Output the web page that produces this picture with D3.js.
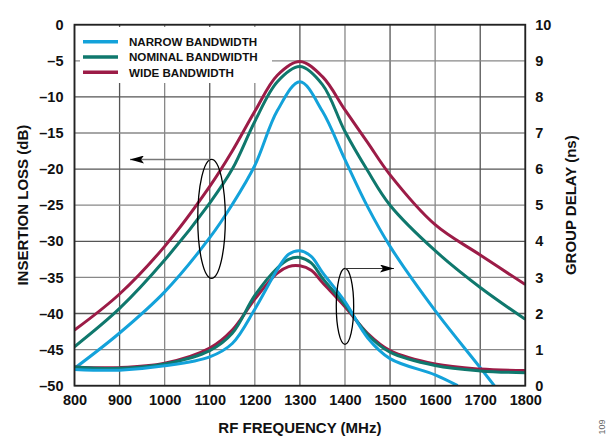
<!DOCTYPE html>
<html>
<head>
<meta charset="utf-8">
<script src="https://cdn.jsdelivr.net/npm/d3@7"></script>
<style>
  body { margin: 0; background: #fff; }
  text { font-family: "Liberation Sans", Arial, sans-serif; font-weight: bold; fill: #111; }
</style>
</head>
<body>
<div id="chart"></div>
<script>
// Chart data
// ===========================
var freqs = [800, 900, 1000, 1100, 1150, 1200, 1250, 1300, 1350, 1400, 1450, 1500, 1600, 1700, 1800];

// insertion loss (dB), left axis
var lossWide    = [-42.3, -37.3, -30.7, -22.4, -17.5, -12.0, -7.0, -5.1, -7.2, -11.8, -16.3, -20.8, -27.7, -31.9, -36.0];
var lossNominal = [-44.6, -39.3, -32.6, -24.7, -20.0, -13.4, -7.9, -5.8, -8.3, -14.8, -20.2, -25.0, -31.3, -36.4, -40.8];
var lossNarrowFreqs = [800, 900, 1000, 1100, 1150, 1200, 1250, 1300, 1350, 1400, 1450, 1500, 1600, 1700, 1750];
var lossNarrow  = [-47.6, -42.7, -37.0, -29.5, -24.9, -19.5, -11.9, -7.9, -12.0, -18.7, -25.2, -30.7, -39.6, -47.5, -51.5];

// group delay (ns), right axis
var delayFreqs   = [800, 900, 1000, 1100, 1150, 1200, 1250, 1275, 1300, 1325, 1350, 1400, 1450, 1500, 1600, 1700, 1800];
var delayWide    = [0.52, 0.50, 0.62, 1.04, 1.54, 2.40, 3.12, 3.30, 3.32, 3.20, 2.86, 2.19, 1.45, 0.97, 0.60, 0.46, 0.42];
var delayNominal = [0.52, 0.48, 0.60, 0.97, 1.45, 2.50, 3.26, 3.50, 3.55, 3.40, 2.98, 2.24, 1.42, 0.93, 0.56, 0.41, 0.36];
var delayNarrowFreqs = [800, 900, 1000, 1100, 1150, 1200, 1250, 1275, 1300, 1325, 1350, 1400, 1450, 1500, 1600, 1650];
var delayNarrow  = [0.45, 0.43, 0.55, 0.80, 1.17, 2.12, 3.22, 3.64, 3.74, 3.58, 3.14, 2.33, 1.33, 0.75, 0.30, 0.0];

var xTicks = [800, 900, 1000, 1100, 1200, 1300, 1400, 1500, 1600, 1700, 1800];
var lossTicks = [0, -5, -10, -15, -20, -25, -30, -35, -40, -45, -50];
var delayTicks = [0, 1, 2, 3, 4, 5, 6, 7, 8, 9, 10];

var seriesNames = ["NARROW BANDWIDTH", "NOMINAL BANDWIDTH", "WIDE BANDWIDTH"];
var seriesColors = ["#13a2da", "#0f786d", "#9c1c47"];

// Canvas
// ===========================
var width = 616, height = 437;
var plotLeft = 74.5, plotRight = 525.3, plotTop = 24.7, plotBottom = 385.7;

var svg = d3.select("#chart").append("svg")
  .attr("width", width)
  .attr("height", height);

var xScale = d3.scaleLinear().domain([800, 1800]).range([plotLeft, plotRight]);
var yLoss = d3.scaleLinear().domain([-50, 0]).range([plotBottom, plotTop]);
var yDelay = d3.scaleLinear().domain([0, 10]).range([plotBottom, plotTop]);

// grid lines
var grid = svg.append("g");
grid.selectAll("line.v").data(xTicks).enter().append("line")
  .attr("x1", function(d) { return xScale(d); })
  .attr("x2", function(d) { return xScale(d); })
  .attr("y1", plotTop).attr("y2", plotBottom)
  .attr("stroke", function(d, i) { return i % 2 ? "#555" : "#888"; })
  .attr("stroke-width", 1.3);
grid.selectAll("line.h").data(lossTicks).enter().append("line")
  .attr("x1", plotLeft).attr("x2", plotRight)
  .attr("y1", function(d) { return yLoss(d); })
  .attr("y2", function(d) { return yLoss(d); })
  .attr("stroke", function(d, i) { return i % 2 ? "#888" : "#555"; })
  .attr("stroke-width", 1.3);

// legend box covers the grid
svg.append("rect")
  .attr("x", 80).attr("y", 27)
  .attr("width", 192).attr("height", 56)
  .attr("fill", "#fff");

svg.append("clipPath").attr("id", "plotClip")
  .append("rect")
  .attr("x", plotLeft).attr("y", plotTop)
  .attr("width", plotRight - plotLeft).attr("height", plotBottom - plotTop);

var plot = svg.append("g").attr("clip-path", "url(#plotClip)");

function drawLine(fs, vals, yScale, color) {
  var line = d3.line()
    .x(function(d, i) { return xScale(fs[i]); })
    .y(function(d) { return yScale(d); })
    .curve(d3.curveCatmullRom.alpha(0.5));
  plot.append("path")
    .datum(vals)
    .attr("d", line)
    .attr("fill", "none")
    .attr("stroke", color)
    .attr("stroke-width", 3)
    .attr("stroke-linejoin", "round");
}

drawLine(freqs, lossWide, yLoss, seriesColors[2]);
drawLine(freqs, lossNominal, yLoss, seriesColors[1]);
drawLine(lossNarrowFreqs, lossNarrow, yLoss, seriesColors[0]);
drawLine(delayFreqs, delayWide, yDelay, seriesColors[2]);
drawLine(delayFreqs, delayNominal, yDelay, seriesColors[1]);
drawLine(delayNarrowFreqs, delayNarrow, yDelay, seriesColors[0]);

// plot border
svg.append("rect")
  .attr("x", plotLeft).attr("y", plotTop)
  .attr("width", plotRight - plotLeft).attr("height", plotBottom - plotTop)
  .attr("fill", "none")
  .attr("stroke", "#222")
  .attr("stroke-width", 1.8);

// Axes (labels only, no tick marks)
var xAxis = d3.axisBottom(xScale).tickValues(xTicks).tickSize(0).tickPadding(9)
  .tickFormat(d3.format("d"));
svg.append("g")
  .attr("transform", "translate(0," + plotBottom + ")")
  .call(xAxis)
  .call(function(g) { g.select(".domain").remove(); })
  .selectAll("text").style("font-size", "14.5px");

var lAxis = d3.axisLeft(yLoss).tickValues(lossTicks).tickSize(0).tickPadding(11)
  .tickFormat(function(d) { return d < 0 ? "\u2013" + Math.abs(d) : d; });
svg.append("g")
  .attr("transform", "translate(" + plotLeft + ",0)")
  .call(lAxis)
  .call(function(g) { g.select(".domain").remove(); })
  .selectAll("text").style("font-size", "14.5px");

var rAxis = d3.axisRight(yDelay).tickValues(delayTicks).tickSize(0).tickPadding(10);
svg.append("g")
  .attr("transform", "translate(" + plotRight + ",0)")
  .call(rAxis)
  .call(function(g) { g.select(".domain").remove(); })
  .selectAll("text").style("font-size", "14.5px");

// axis titles
svg.append("text")
  .attr("x", (plotLeft + plotRight) / 2).attr("y", 433)
  .attr("text-anchor", "middle")
  .style("font-size", "15px")
  .text("RF FREQUENCY (MHz)");
svg.append("text")
  .attr("transform", "translate(28," + (plotTop + plotBottom) / 2 + ") rotate(-90)")
  .attr("text-anchor", "middle")
  .style("font-size", "15px")
  .text("INSERTION LOSS (dB)");
svg.append("text")
  .attr("transform", "translate(576," + (plotTop + plotBottom) / 2 + ") rotate(-90)")
  .attr("text-anchor", "middle")
  .style("font-size", "15px")
  .text("GROUP DELAY (ns)");
svg.append("text")
  .attr("transform", "translate(605,427) rotate(-90)")
  .attr("text-anchor", "middle")
  .style("font-size", "9px")
  .style("font-weight", "normal")
  .style("fill", "#666")
  .text("109");

// legend
var legend = svg.selectAll("g.legend").data(seriesNames).enter().append("g")
  .attr("transform", function(d, i) { return "translate(83," + (41.7 + i * 15.3) + ")"; });
legend.append("line")
  .attr("x1", 0).attr("x2", 35)
  .attr("stroke", function(d, i) { return seriesColors[i]; })
  .attr("stroke-width", 3.5);
legend.append("text")
  .attr("x", 46).attr("y", 4.2)
  .style("font-size", "11.6px")
  .text(function(d) { return d; });

// ellipses and arrows
svg.append("defs").append("marker")
  .attr("id", "arrowHead")
  .attr("viewBox", "0 0 14 8")
  .attr("refX", 14).attr("refY", 4)
  .attr("markerWidth", 14).attr("markerHeight", 8)
  .attr("markerUnits", "userSpaceOnUse")
  .attr("orient", "auto")
  .append("path")
  .attr("d", "M0,0 L14,4 L0,8 L3,4 Z")
  .attr("fill", "#000");

svg.append("ellipse")
  .attr("cx", xScale(1104)).attr("cy", 218.8)
  .attr("rx", 13.8).attr("ry", 59.5)
  .attr("fill", "none").attr("stroke", "#000").attr("stroke-width", 1.3);
svg.append("line")
  .attr("x1", xScale(1100)).attr("y1", 159.5)
  .attr("x2", 130).attr("y2", 159.5)
  .attr("stroke", "#777").attr("stroke-width", 1.3)
  .attr("marker-end", "url(#arrowHead)");

svg.append("ellipse")
  .attr("cx", xScale(1400)).attr("cy", 306.3)
  .attr("rx", 8.7).attr("ry", 38)
  .attr("fill", "none").attr("stroke", "#000").attr("stroke-width", 1.3);
svg.append("line")
  .attr("x1", xScale(1400)).attr("y1", 268.5)
  .attr("x2", 394).attr("y2", 268.5)
  .attr("stroke", "#333").attr("stroke-width", 1.1)
  .attr("marker-end", "url(#arrowHead)");
</script>
</body>
</html>
